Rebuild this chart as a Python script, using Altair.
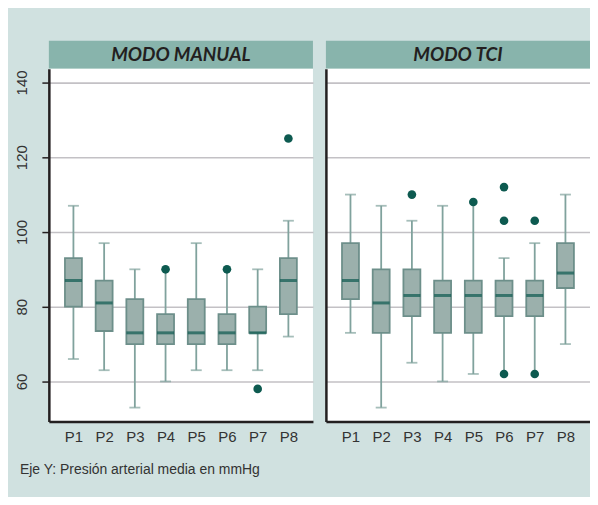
import altair as alt
import pandas as pd

modes = ["MODO MANUAL", "MODO TCI"]
positions = ["P1", "P2", "P3", "P4", "P5", "P6", "P7", "P8"]

manual_low = [66, 63, 53, 60, 63, 63, 63, 72]
manual_q1 = [80, 73.5, 70, 70, 70, 70, 73, 78]
manual_median = [87, 81, 73, 73, 73, 73, 73, 87]
manual_q3 = [93, 87, 82, 78, 82, 78, 80, 93]
manual_high = [107, 97, 90, 90, 97, 90, 90, 103]
manual_low_cap = [True, True, True, True, True, True, True, True]
manual_high_cap = [True, True, True, False, True, False, True, True]
manual_out_pos = ["P4", "P6", "P7", "P8"]
manual_out_val = [90, 90, 58, 125]

tci_low = [73, 53, 65, 60, 62, 62, 62, 70]
tci_q1 = [82, 73, 77.5, 73, 73, 77.5, 77.5, 85]
tci_median = [87, 81, 83, 83, 83, 83, 83, 89]
tci_q3 = [97, 90, 90, 87, 87, 87, 87, 97]
tci_high = [110, 107, 103, 107, 108, 93, 97, 110]
tci_low_cap = [True, True, True, True, True, False, False, True]
tci_high_cap = [True, True, True, True, False, True, True, True]
tci_out_pos = ["P3", "P5", "P6", "P6", "P6", "P7", "P7"]
tci_out_val = [110, 108, 112, 103, 62, 103, 62]

y_ticks = [60, 80, 100, 120, 140]
caption = "Eje Y: Presión arterial media en mmHg"

BG = "#d0e1e0"
HEADER = "#88b4ac"
BOX_FILL = "#9bb0ac"
BOX_STROKE = "#6d8f8a"
WHISKER = "#80a29d"
MEDIAN = "#0d5a50"
GRID = "#c3c1c5"
AXIS = "#231f20"
TEXT = "#333333"
FONT = "Liberation Sans"

PW = 265
PH = 354


def panel(mode, low, q1, med, q3, high, lowcap, highcap, opos, oval, first):
    stats = pd.DataFrame({"pos": positions, "low": low, "q1": q1,
                          "med": med, "q3": q3, "high": high})
    caps = pd.DataFrame({"pos": positions * 2, "v": low + high,
                         "show": lowcap + highcap})
    caps = caps[caps["show"]].drop(columns="show")
    outs = pd.DataFrame({"pos": opos, "v": oval})

    xaxis = alt.Axis(title=None, labelAngle=0, ticks=False, grid=False,
                     domain=True, domainColor=AXIS, domainWidth=2.5,
                     labelFont=FONT, labelFontSize=15, labelColor=TEXT,
                     labelPadding=8)
    xscale = alt.Scale(type="point", domain=positions, padding=0.8)
    yaxis = alt.Axis(title=None, values=y_ticks, grid=True, gridColor=GRID,
                     gridWidth=1.6, domain=True, domainColor=AXIS,
                     domainWidth=2.5, ticks=first, tickSize=7,
                     tickColor=AXIS, tickWidth=1.5, labels=first,
                     labelAngle=270, labelAlign="center",
                     labelBaseline="alphabetic", labelPadding=15,
                     labelFont=FONT, labelFontSize=15, labelColor=TEXT)
    yscale = alt.Scale(domain=[49.3, 143.7], nice=False, zero=False)

    def X():
        return alt.X("pos:N", scale=xscale, axis=xaxis)

    base = alt.Chart(stats)
    whisk = base.mark_rule(color=WHISKER, strokeWidth=1.8).encode(
        x=X(), y=alt.Y("low:Q", scale=yscale, axis=yaxis), y2="high:Q")
    cap = alt.Chart(caps).mark_tick(color=WHISKER, size=11, thickness=1.8).encode(
        x=X(), y=alt.Y("v:Q", scale=yscale, axis=yaxis))
    box = base.mark_bar(size=17, fill=BOX_FILL, stroke=BOX_STROKE,
                        strokeWidth=1.8).encode(
        x=X(), y=alt.Y("q1:Q", scale=yscale, axis=yaxis), y2="q3:Q")
    mid = base.mark_tick(color=MEDIAN, size=17, thickness=3).encode(
        x=X(), y=alt.Y("med:Q", scale=yscale, axis=yaxis))
    pts = alt.Chart(outs).mark_circle(color=MEDIAN, size=75, opacity=1).encode(
        x=X(), y=alt.Y("v:Q", scale=yscale, axis=yaxis))

    plot = alt.layer(whisk, cap, box, mid, pts).properties(
        width=PW, height=PH,
        view=alt.ViewBackground(fill="white", stroke=None))

    header = alt.Chart(pd.DataFrame({"t": [mode]})).mark_text(
        font="Lato", fontSize=19, fontWeight="bold", fontStyle="italic",
        color=AXIS).encode(text="t:N").properties(
        width=PW, height=28,
        view=alt.ViewBackground(fill=HEADER, stroke=None))

    return alt.vconcat(header, plot, spacing=0)


p1 = panel(modes[0], manual_low, manual_q1, manual_median, manual_q3,
           manual_high, manual_low_cap, manual_high_cap,
           manual_out_pos, manual_out_val, True)
p2 = panel(modes[1], tci_low, tci_q1, tci_median, tci_q3, tci_high,
           tci_low_cap, tci_high_cap, tci_out_pos, tci_out_val, False)

chart = alt.hconcat(p1, p2, spacing=13).properties(
    title=alt.TitleParams(text=caption, orient="bottom", anchor="start",
                          font=FONT, fontSize=14, fontWeight="normal",
                          color=TEXT, offset=19, dx=5),
    padding={"left": 6, "right": 0, "top": 32, "bottom": 19},
    background=BG,
).configure_view(stroke=None)

chart.save("out.html", embed_options={"renderer": "svg", "actions": False})
